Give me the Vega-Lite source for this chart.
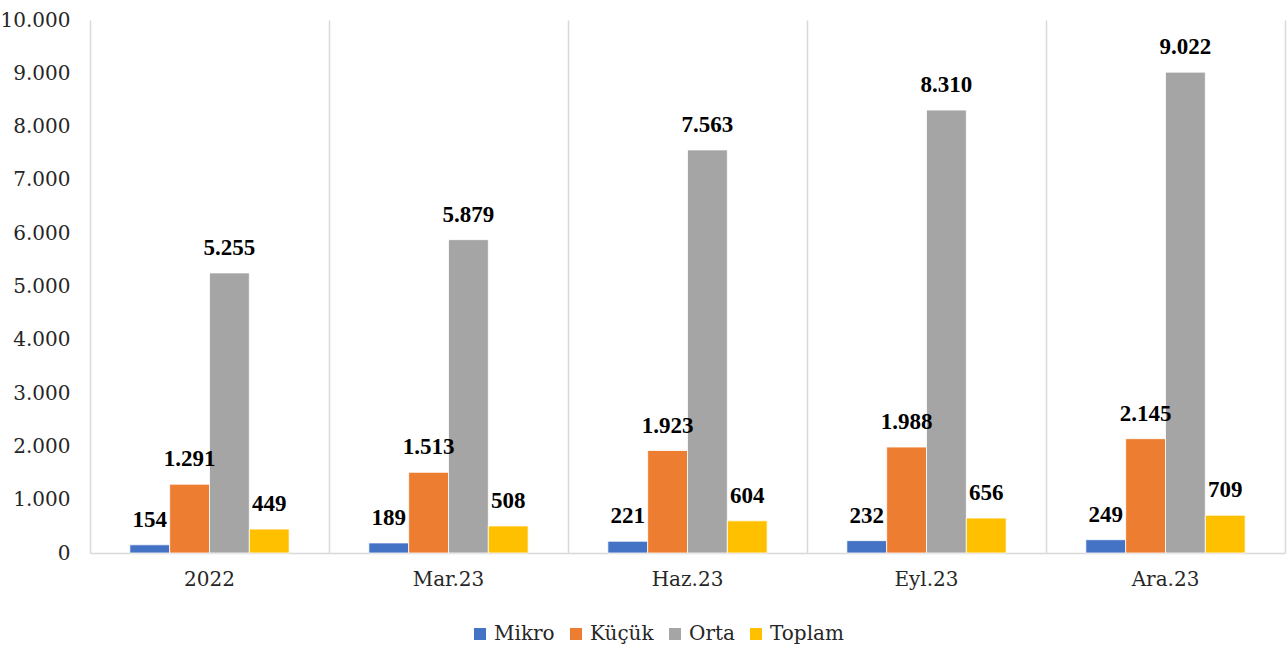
{
  "$schema": "https://vega.github.io/schema/vega-lite/v6.json",
  "width": 1195,
  "height": 533,
  "autosize": {"type": "none"},
  "padding": {"left": 90, "top": 20, "right": 3, "bottom": 95},
  "background": "white",
  "config": {
    "font": "DejaVu Serif",
    "view": {"stroke": null},
    "axis": {"labelFont": "DejaVu Serif", "labelColor": "#262626", "labelFontSize": 20},
    "legend": {"labelFont": "DejaVu Serif", "labelFontSize": 20, "labelColor": "#262626"}
  },
  "data": {
    "values": [
      {"cat": "2022", "series": "Mikro", "value": 154},
      {"cat": "2022", "series": "Küçük", "value": 1291},
      {"cat": "2022", "series": "Orta", "value": 5255},
      {"cat": "2022", "series": "Toplam", "value": 449},
      {"cat": "Mar.23", "series": "Mikro", "value": 189},
      {"cat": "Mar.23", "series": "Küçük", "value": 1513},
      {"cat": "Mar.23", "series": "Orta", "value": 5879},
      {"cat": "Mar.23", "series": "Toplam", "value": 508},
      {"cat": "Haz.23", "series": "Mikro", "value": 221},
      {"cat": "Haz.23", "series": "Küçük", "value": 1923},
      {"cat": "Haz.23", "series": "Orta", "value": 7563},
      {"cat": "Haz.23", "series": "Toplam", "value": 604},
      {"cat": "Eyl.23", "series": "Mikro", "value": 232},
      {"cat": "Eyl.23", "series": "Küçük", "value": 1988},
      {"cat": "Eyl.23", "series": "Orta", "value": 8310},
      {"cat": "Eyl.23", "series": "Toplam", "value": 656},
      {"cat": "Ara.23", "series": "Mikro", "value": 249},
      {"cat": "Ara.23", "series": "Küçük", "value": 2145},
      {"cat": "Ara.23", "series": "Orta", "value": 9022},
      {"cat": "Ara.23", "series": "Toplam", "value": 709}
    ]
  },
  "transform": [
    {"calculate": "replace(format(datum.value, ','), ',', '.')", "as": "label"}
  ],
  "encoding": {
    "x": {
      "field": "cat", "type": "nominal",
      "sort": ["2022", "Mar.23", "Haz.23", "Eyl.23", "Ara.23"],
      "scale": {"paddingInner": 0, "paddingOuter": 0},
      "axis": {
        "title": null, "labelAngle": 0, "ticks": false, "labelPadding": 16,
        "labelFont": "DejaVu Serif", "labelFontSize": 20, "labelColor": "#262626",
        "domain": true, "domainColor": "#d9d9d9", "domainWidth": 1.5,
        "grid": true, "gridColor": "#d9d9d9", "gridWidth": 1.5, "bandPosition": 0
      }
    },
    "xOffset": {
      "field": "series", "type": "nominal",
      "sort": ["Mikro", "Küçük", "Orta", "Toplam"],
      "scale": {"paddingInner": 0, "paddingOuter": 1.1}
    }
  },
  "layer": [
    {
      "mark": {"type": "bar", "stroke": "white", "strokeWidth": 0.8},
      "encoding": {
        "y": {
          "field": "value", "type": "quantitative",
          "scale": {"domain": [0, 10000], "nice": false},
          "axis": {
            "title": null, "orient": "left",
            "values": [0, 1000, 2000, 3000, 4000, 5000, 6000, 7000, 8000, 9000, 10000],
            "labelExpr": "replace(format(datum.value, ','), ',', '.')",
            "domain": false, "ticks": false, "grid": false, "labelPadding": 20,
            "labelFont": "DejaVu Serif", "labelFontSize": 20, "labelColor": "#262626"
          }
        },
        "color": {
          "field": "series", "type": "nominal",
          "sort": ["Mikro", "Küçük", "Orta", "Toplam"],
          "scale": {"domain": ["Mikro", "Küçük", "Orta", "Toplam"], "range": ["#4472C4", "#ED7D31", "#A5A5A5", "#FFC000"]},
          "legend": {
            "title": null, "orient": "none", "direction": "horizontal",
            "legendX": 380, "legendY": 604,
            "symbolType": "square", "symbolSize": 144, "symbolStrokeWidth": 0,
            "labelFont": "DejaVu Serif", "labelFontSize": 20, "labelColor": "#262626",
            "labelOffset": 4, "columnPadding": 11
          }
        }
      }
    },
    {
      "mark": {"type": "text", "baseline": "bottom", "dy": -13, "fontSize": 23, "fontWeight": "bold", "color": "black", "font": "Liberation Serif"},
      "encoding": {
        "y": {
          "field": "value", "type": "quantitative",
          "scale": {"domain": [0, 10000], "nice": false},
          "axis": {
            "title": null, "orient": "right", "labels": false, "ticks": false, "grid": false,
            "domain": true, "domainColor": "#d9d9d9", "domainWidth": 1.5
          }
        },
        "text": {"field": "label", "type": "nominal"}
      }
    }
  ],
  "resolve": {"axis": {"y": "independent"}}
}
